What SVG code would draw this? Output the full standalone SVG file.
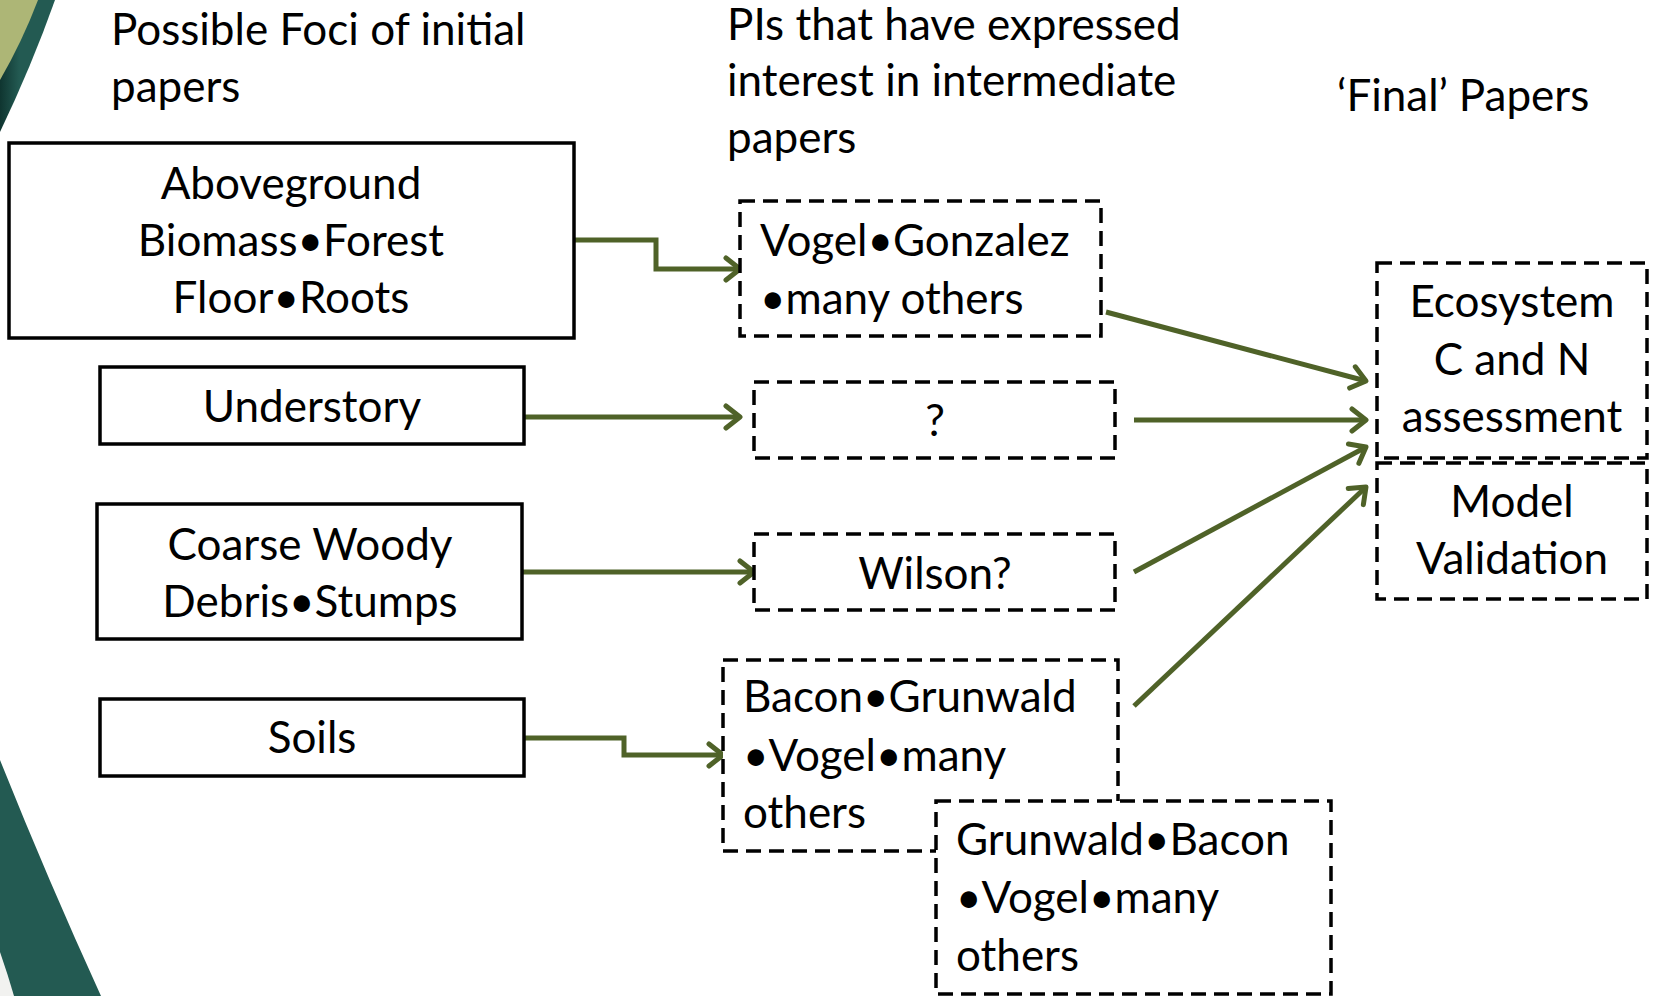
<svg xmlns="http://www.w3.org/2000/svg" width="1660" height="996" viewBox="0 0 1660 996">
<style>
text{font-family:Lato,"Open Sans","Liberation Sans",sans-serif;font-size:44px;fill:#000}
.c{text-anchor:middle}
.solid{fill:#fff;stroke:#000;stroke-width:3.5}
.dash{fill:#fff;stroke:#000;stroke-width:3.5;stroke-dasharray:15 8}
.conn{fill:none;stroke:#4f6228;stroke-width:5;marker-end:url(#arr)}
</style>
<defs>
<marker id="arr" markerUnits="userSpaceOnUse" markerWidth="28" markerHeight="28" refX="21" refY="14" orient="auto">
<path d="M7,3 L21,14 L7,25" fill="none" stroke="#4f6228" stroke-width="5" stroke-linecap="round" stroke-linejoin="round"/>
</marker>
<linearGradient id="tealg" x1="0" y1="0" x2="1" y2="0">
<stop offset="0" stop-color="#0f3530"/><stop offset="0.35" stop-color="#235a52"/><stop offset="1" stop-color="#235a52"/>
</linearGradient>
</defs>
<g id="decor">
<path d="M0,0 L55,0 Q32,65 0,132 Z" fill="url(#tealg)"/>
<path d="M0,0 L38,0 Q22,42 0,80 Z" fill="#adb676"/>
<path d="M0,760 Q48,880 101,996 L0,996 Z" fill="#235a52"/>
<path d="M0,952 Q8,975 14,996 L0,996 Z" fill="#f2f2f0"/>
</g>
<g id="headers">
<text x="111" y="45">Possible Foci of initial</text>
<text x="111" y="102">papers</text>
<text x="727" y="40">PIs that have expressed</text>
<text x="727" y="96">interest in intermediate</text>
<text x="727" y="153">papers</text>
<text x="1337" y="111">‘Final’ Papers</text>
</g>
<g id="connectors">
<path class="conn" d="M574,240 L656,240 L656,269 L740,269"/>
<path class="conn" d="M524,417 L740,417"/>
<path class="conn" d="M522,572 L754,572"/>
<path class="conn" d="M524,738 L624,738 L624,755 L723,755"/>
<path class="conn" d="M1106,312 L1366,381"/>
<path class="conn" d="M1134,420 L1366,420"/>
<path class="conn" d="M1134,572 L1366,447"/>
<path class="conn" d="M1134,706 L1366,487"/>
</g>
<g id="aboveground">
<rect class="solid" x="9" y="143" width="565" height="195"/>
<text class="c" x="291" y="199">Aboveground</text>
<text class="c" x="291" y="256">Biomass•Forest</text>
<text class="c" x="291" y="313">Floor•Roots</text>
</g>
<g id="understory">
<rect class="solid" x="100" y="367" width="424" height="77"/>
<text class="c" x="312" y="422">Understory</text>
</g>
<g id="coarse">
<rect class="solid" x="97" y="504" width="425" height="135"/>
<text class="c" x="310" y="560">Coarse Woody</text>
<text class="c" x="310" y="617">Debris•Stumps</text>
</g>
<g id="soils">
<rect class="solid" x="100" y="699" width="424" height="77"/>
<text class="c" x="312" y="753">Soils</text>
</g>
<g id="vogel">
<rect class="dash" x="740" y="201" width="361" height="135"/>
<text x="760" y="256">Vogel•Gonzalez</text>
<text x="760" y="314">•many others</text>
</g>
<g id="question">
<rect class="dash" x="754" y="382" width="361" height="76"/>
<text class="c" x="935" y="436">?</text>
</g>
<g id="wilson">
<rect class="dash" x="754" y="534" width="361" height="76"/>
<text class="c" x="935" y="589">Wilson?</text>
</g>
<g id="bacon">
<rect class="dash" x="723" y="660" width="395" height="191"/>
<text x="743" y="712">Bacon•Grunwald</text>
<text x="743" y="771">•Vogel•many</text>
<text x="743" y="828">others</text>
</g>
<g id="grunwald">
<rect class="dash" x="936" y="801" width="395" height="193"/>
<text x="956" y="855">Grunwald•Bacon</text>
<text x="956" y="913">•Vogel•many</text>
<text x="956" y="971">others</text>
</g>
<g id="ecosystem">
<rect class="dash" x="1377" y="263" width="270" height="195"/>
<text class="c" x="1512" y="317">Ecosystem</text>
<text class="c" x="1512" y="375">C and N</text>
<text class="c" x="1512" y="432">assessment</text>
</g>
<g id="model">
<rect class="dash" x="1377" y="463" width="270" height="136"/>
<text class="c" x="1512" y="517">Model</text>
<text class="c" x="1512" y="574">Validation</text>
</g>
</svg>
